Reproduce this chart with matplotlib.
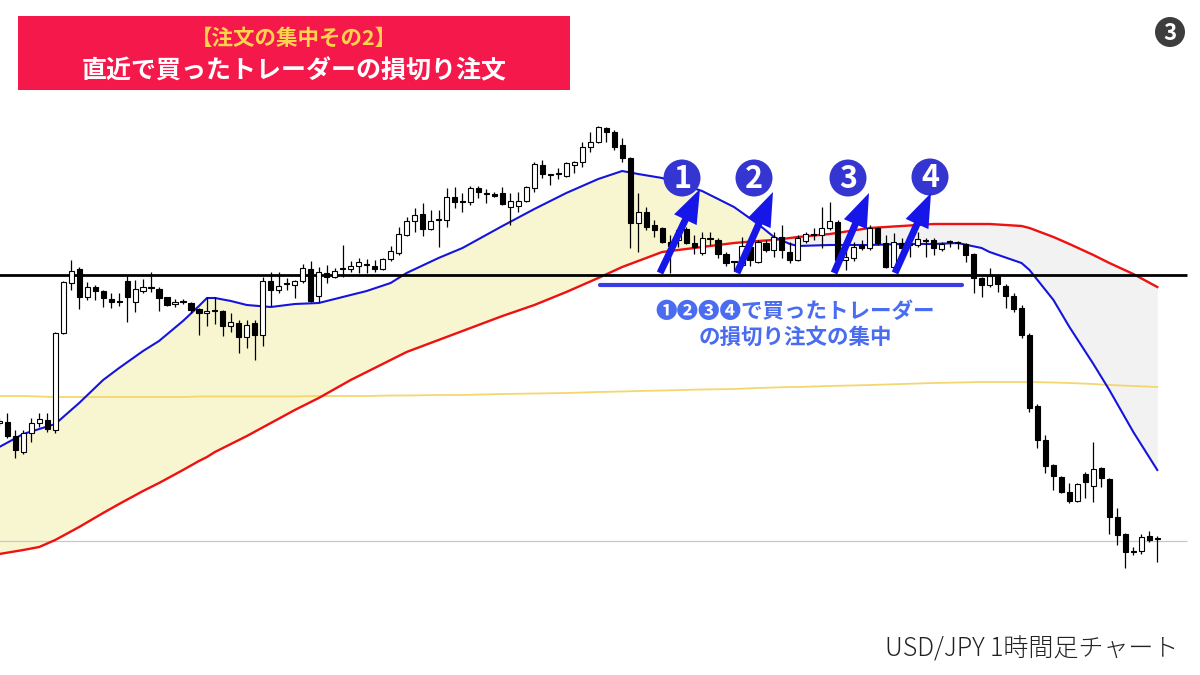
import numpy as np
import matplotlib.pyplot as plt
from matplotlib.patches import Rectangle, Circle, FancyArrow

plt.rcParams['font.family'] = ['Noto Sans CJK JP', 'DejaVu Sans']

#------- bougies USD/JPY 1h -------
opens = [107.77, 107.78, 107.64, 107.48, 107.67, 107.77, 107.80, 107.70, 108.67, 109.17,
         109.31, 109.03, 109.13, 109.09, 109.01, 108.98, 109.19, 108.98, 109.09, 109.12,
         109.11, 109.03, 108.96, 108.98, 108.97, 108.91, 108.87, 108.89, 108.89, 108.74,
         108.77, 108.63, 108.77, 108.65, 109.19, 109.10, 109.16, 109.15, 109.19, 109.31,
         109.04, 109.27, 109.23, 109.31, 109.31, 109.34, 109.36, 109.34, 109.31, 109.41,
         109.47, 109.65, 109.79, 109.86, 109.71, 109.80, 109.80, 110.03, 109.98, 109.98,
         110.12, 110.06, 110.06, 110.07, 109.93, 109.94, 109.99, 110.12, 110.35, 110.25,
         110.26, 110.24, 110.35, 110.38, 110.53, 110.58, 110.72, 110.68, 110.55, 110.42,
         109.77, 109.88, 109.75, 109.72, 109.58, 109.60, 109.71, 109.57, 109.47, 109.61,
         109.60, 109.46, 109.38, 109.35, 109.53, 109.38, 109.57, 109.50, 109.63, 109.48,
         109.40, 109.59, 109.65, 109.65, 109.72, 109.78, 109.40, 109.42, 109.55, 109.52,
         109.72, 109.57, 109.33, 109.57, 109.55, 109.55, 109.59, 109.60, 109.51, 109.58,
         109.57, 109.56, 109.46, 109.22, 109.15, 109.24, 109.14, 109.04, 108.92, 108.65,
         107.94, 107.60, 107.35, 107.23, 107.08, 106.99, 107.26, 107.14, 107.32, 107.21,
         106.83, 106.66, 106.48, 106.49, 106.64, 106.61]
highs = [107.82, 107.87, 107.70, 107.70, 107.82, 107.87, 107.87, 108.68, 109.19, 109.40,
         109.33, 109.18, 109.15, 109.10, 109.07, 109.07, 109.25, 109.20, 109.21, 109.28,
         109.13, 109.03, 109.01, 109.01, 108.98, 108.92, 109.03, 109.03, 108.90, 108.87,
         108.80, 108.80, 108.80, 109.23, 109.28, 109.28, 109.22, 109.20, 109.36, 109.39,
         109.33, 109.35, 109.32, 109.55, 109.39, 109.42, 109.41, 109.40, 109.42, 109.54,
         109.73, 109.83, 109.92, 109.97, 109.90, 109.90, 110.12, 110.13, 110.07, 110.14,
         110.14, 110.11, 110.08, 110.13, 110.07, 110.08, 110.14, 110.38, 110.40, 110.26,
         110.32, 110.38, 110.39, 110.58, 110.68, 110.74, 110.73, 110.70, 110.62, 110.43,
         110.07, 109.93, 109.80, 109.73, 109.65, 109.71, 109.73, 109.65, 109.68, 109.68,
         109.62, 109.48, 109.39, 109.63, 109.55, 109.60, 109.60, 109.68, 109.75, 109.58,
         109.65, 109.68, 109.72, 109.93, 109.98, 109.80, 109.52, 109.58, 109.60, 109.75,
         109.73, 109.65, 109.67, 109.62, 109.62, 109.68, 109.62, 109.62, 109.58, 109.60,
         109.59, 109.57, 109.47, 109.23, 109.32, 109.25, 109.16, 109.07, 108.95, 108.67,
         107.96, 107.65, 107.36, 107.24, 107.17, 107.17, 107.28, 107.58, 107.33, 107.22,
         106.92, 106.67, 106.53, 106.66, 106.69, 106.64]
lows = [107.74, 107.62, 107.42, 107.46, 107.58, 107.73, 107.68, 107.67, 108.66, 109.10,
        108.91, 109.00, 109.00, 108.93, 108.92, 108.94, 108.78, 108.88, 109.07, 109.08,
        108.89, 108.94, 108.93, 108.96, 108.87, 108.65, 108.74, 108.76, 108.64, 108.68,
        108.47, 108.52, 108.40, 108.54, 108.94, 109.07, 109.10, 109.02, 109.17, 108.98,
        108.98, 109.17, 109.22, 109.23, 109.28, 109.27, 109.27, 109.28, 109.30, 109.39,
        109.45, 109.64, 109.68, 109.64, 109.70, 109.53, 109.73, 109.92, 109.88, 109.95,
        110.02, 109.97, 110.03, 109.95, 109.75, 109.88, 109.98, 110.08, 110.22, 110.15,
        110.21, 110.23, 110.27, 110.33, 110.48, 110.57, 110.58, 110.50, 110.38, 109.52,
        109.48, 109.70, 109.63, 109.57, 109.27, 109.53, 109.56, 109.46, 109.45, 109.55,
        109.42, 109.34, 109.29, 109.33, 109.34, 109.37, 109.48, 109.43, 109.42, 109.37,
        109.39, 109.57, 109.60, 109.52, 109.70, 109.38, 109.30, 109.39, 109.50, 109.50,
        109.55, 109.32, 109.32, 109.50, 109.43, 109.53, 109.43, 109.45, 109.49, 109.53,
        109.51, 109.38, 109.07, 109.03, 109.13, 109.08, 108.92, 108.88, 108.62, 107.88,
        107.52, 107.27, 107.10, 107.07, 106.97, 106.98, 107.02, 106.98, 107.13, 106.66,
        106.55, 106.32, 106.45, 106.46, 106.58, 106.38]
closes = [107.79, 107.64, 107.50, 107.67, 107.77, 107.81, 107.71, 108.67, 109.18, 109.29,
          109.03, 109.13, 109.09, 109.02, 108.98, 108.98, 109.03, 109.11, 109.13, 109.12,
          109.02, 108.95, 108.98, 108.98, 108.90, 108.87, 108.89, 108.89, 108.74, 108.78,
          108.63, 108.75, 108.65, 109.19, 109.10, 109.14, 109.16, 109.19, 109.32, 108.99,
          109.28, 109.23, 109.29, 109.31, 109.34, 109.38, 109.35, 109.31, 109.41, 109.49,
          109.66, 109.79, 109.85, 109.71, 109.79, 109.80, 110.03, 109.98, 109.98, 110.12,
          110.08, 110.06, 110.04, 109.96, 109.99, 109.99, 110.13, 110.36, 110.26, 110.25,
          110.26, 110.37, 110.38, 110.53, 110.58, 110.73, 110.68, 110.53, 110.42, 109.77,
          109.88, 109.73, 109.70, 109.58, 109.54, 109.70, 109.57, 109.53, 109.62, 109.61,
          109.46, 109.37, 109.38, 109.54, 109.40, 109.58, 109.50, 109.63, 109.50, 109.40,
          109.62, 109.66, 109.65, 109.72, 109.79, 109.40, 109.43, 109.53, 109.52, 109.72,
          109.57, 109.33, 109.58, 109.52, 109.55, 109.61, 109.59, 109.52, 109.56, 109.58,
          109.57, 109.45, 109.22, 109.15, 109.24, 109.16, 109.04, 108.91, 108.65, 107.92,
          107.60, 107.34, 107.24, 107.08, 106.99, 107.16, 107.18, 107.31, 107.22, 106.83,
          106.65, 106.48, 106.48, 106.63, 106.60, 106.61]

#------- moyennes mobiles relevées sur quelques bougies -------
ma_idx = [0, 3, 5, 7, 10, 13, 15, 18, 20, 23, 25, 26, 27, 29, 30, 31, 34, 37, 40, 44,
          46, 49, 51, 55, 58, 63, 67, 71, 75, 78, 80, 83, 88, 92, 95, 97, 99, 100, 104, 109,
          113, 117, 120, 123, 124, 128, 129, 132, 134, 137, 139, 142, 145]
ma_short = [107.53, 107.66, 107.71, 107.76, 107.97, 108.20, 108.32, 108.49, 108.59, 108.79,
            108.94, 109.02, 109.02, 108.99, 108.97, 108.95, 108.93, 108.96, 108.97, 109.05,
            109.09, 109.17, 109.27, 109.42, 109.52, 109.74, 109.91, 110.07, 110.21, 110.29,
            110.26, 110.22, 110.09, 109.93, 109.76, 109.63, 109.56, 109.54, 109.55, 109.55,
            109.56, 109.56, 109.57, 109.52, 109.48, 109.37, 109.30, 109.00, 108.73, 108.36,
            108.10, 107.68, 107.30]
ma_mid = [106.46, 106.50, 106.53, 106.60, 106.73, 106.87, 106.96, 107.09, 107.17, 107.30,
          107.39, 107.43, 107.48, 107.56, 107.60, 107.64, 107.77, 107.90, 108.02, 108.20,
          108.28, 108.40, 108.48, 108.60, 108.69, 108.84, 108.95, 109.08, 109.22, 109.33,
          109.39, 109.48, 109.53, 109.57, 109.59, 109.60, 109.62, 109.63, 109.66, 109.72,
          109.74, 109.76, 109.76, 109.76, 109.76, 109.74, 109.72, 109.63, 109.56, 109.45,
          109.37, 109.26, 109.13]
ma_long = [108.04, 108.04, 108.035, 108.03, 108.03, 108.03, 108.03, 108.03, 108.03, 108.03,
           108.035, 108.035, 108.035, 108.035, 108.035, 108.035, 108.035, 108.035, 108.04, 108.04,
           108.04, 108.045, 108.045, 108.05, 108.05, 108.06, 108.065, 108.07, 108.08, 108.085,
           108.09, 108.095, 108.105, 108.11, 108.12, 108.125, 108.13, 108.13, 108.14, 108.15,
           108.16, 108.17, 108.175, 108.18, 108.18, 108.18, 108.18, 108.175, 108.17, 108.16,
           108.15, 108.14, 108.13]

support = 109.255    # ligne noire
low_level = 106.595  # ligne grise

title1 = "【注文の集中その2】"
title2 = "直近で買ったトレーダーの損切り注文"
note1 = "❶❷❸❹で買ったトレーダー"
note2 = "の損切り注文の集中"
caption = "USD/JPY 1時間足チャート"
numbers = ["1", "2", "3", "4"]

#------- mise en page (pixels) -------
W, H = 1200, 675
step, off = 7.986, -0.7   # pas entre bougies et position de la bougie 0

fig = plt.figure(figsize=(12, 6.75), dpi=100)
ax = fig.add_axes([0, 0, 1, 1])
ax.set_xlim((0 - off) / step, (W - off) / step)
ax.set_ylim(112 - H / 100, 112)
ax.axis('off')

x = np.arange(len(opens))
o = np.array(opens); c = np.array(closes)
mx = np.array(ma_idx, dtype=float)
s = np.array(ma_short); m = np.array(ma_mid); l = np.array(ma_long)

# zones entre MA courte et MA moyenne
ax.fill_between(mx, s, m, where=s >= m, interpolate=True, color="#f8f6d0", lw=0, zorder=1)
ax.fill_between(mx, s, m, where=s < m, interpolate=True, color="#f2f2f2", lw=0, zorder=1)

ax.plot(mx, l, color="#f5d66e", lw=1.3, zorder=2)
ax.plot(mx, m, color="#ee1111", lw=1.7, zorder=2.5)
ax.plot(mx, s, color="#1414dd", lw=1.5, zorder=2.5)

xend = (1187 - off) / step
ax.hlines(support, 0, xend, color="black", lw=2.0, zorder=3)
ax.hlines(low_level, 0, xend, color="#c8c8c8", lw=0.9, zorder=1.5)

# bougies
ax.vlines(x, lows, highs, color="black", lw=0.9, zorder=4)
body_col = np.where(c > o, "white", "black")
ax.bar(x, np.maximum(np.abs(c - o), 0.012), bottom=np.minimum(o, c), width=0.64,
       color=body_col, edgecolor="black", linewidth=0.8, zorder=5)

#------- annotations en pixels -------
ov = fig.add_axes([0, 0, 1, 1])
ov.set_xlim(0, W)
ov.set_ylim(H, 0)
ov.axis('off')
ov.patch.set_alpha(0)

# titre
ov.add_patch(Rectangle((18, 16), 552, 74, color="#f5194b", lw=0))
ov.text(294, 38, title1, color="#ffd34e", fontsize=15.5, fontweight="bold",
        ha="center", va="center")
ov.text(294, 71, title2, color="white", fontsize=18, fontweight="bold",
        ha="center", va="center")

# pastille 3
ov.add_patch(Circle((1170, 32), 15, color="#3d3d3d", lw=0))
ov.text(1170, 33, "3", color="white", fontsize=16, fontweight="bold", ha="center", va="center")

# barre bleue et texte
ov.plot([600, 962], [285, 285], color="#3a3ae6", lw=3, solid_capstyle="round", zorder=6)
ov.text(795, 312, note1, color="#4a6cf0", fontsize=15.5, fontweight="bold", ha="center", va="center")
ov.text(795, 337, note2, color="#4a6cf0", fontsize=15.5, fontweight="bold", ha="center", va="center")

# flèches et numéros
tails = [(660, 273), (737, 273), (834, 273), (895, 273)]
tips = [(700, 189), (773, 192), (869, 193), (931, 193)]
centers = [(682, 178), (754, 178), (848, 178), (930, 177)]
for (x0, y0), (x1, y1), (cx, cy), n in zip(tails, tips, centers, numbers):
    ov.add_patch(Circle((cx, cy), 18.5, color="#3535d2", lw=0, zorder=7))
    ov.text(cx, cy + 1, n, color="white", fontsize=22, fontweight="bold",
            ha="center", va="center", zorder=8)
    ov.add_patch(FancyArrow(x0, y0, x1 - x0, y1 - y0, width=7, head_width=25, head_length=34,
                            length_includes_head=True, color="#1616e8", lw=0, zorder=9))

ov.text(1178, 649, caption, color="#222222", fontsize=18, fontweight="light",
        ha="right", va="center")

fig.savefig("out.png", dpi=100)
